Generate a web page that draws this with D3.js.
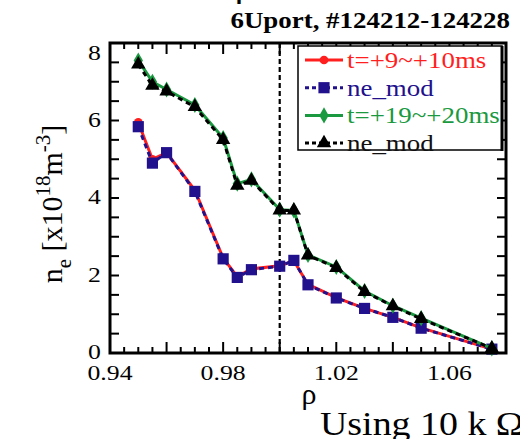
<!DOCTYPE html>
<html>
<head>
<meta charset="utf-8">
<script src="https://cdn.jsdelivr.net/npm/d3@7"></script>
<style>
  body { margin: 0; background: #fff; }
  svg { display: block; }
  text { font-family: "Liberation Serif", "Times New Roman", serif; }
</style>
</head>
<body>
<div id="chart"></div>
<script>
// rho positions of the probe pins
const rho = [0.95, 0.955, 0.96, 0.97, 0.98, 0.985, 0.99, 1.00, 1.005, 1.01, 1.02, 1.03, 1.04, 1.05, 1.075]

// density, x10^18 m^-3
const neEarly = [5.95, 5.0, 5.17, 4.2, 2.45, 1.97, 2.17, 2.25, 2.38, 1.77, 1.43, 1.15, 0.92, 0.65, 0.1]   // t=+9~+10ms
const neEarlyMod = [5.84, 4.9, 5.17, 4.17, 2.43, 1.95, 2.15, 2.24, 2.39, 1.76, 1.42, 1.15, 0.92, 0.64, 0.1]
const neLate = [7.55, 7.0, 6.8, 6.4, 5.55, 4.37, 4.48, 3.7, 3.68, 2.53, 2.22, 1.6, 1.22, 0.9, 0.12]   // t=+19~+20ms
const neLateMod = [7.45, 6.9, 6.75, 6.35, 5.5, 4.32, 4.45, 3.68, 3.68, 2.52, 2.2, 1.58, 1.21, 0.88, 0.12]

const xTickLabels = [0.94, 0.98, 1.02, 1.06]
const yTickLabels = [0, 2, 4, 6, 8]
const legendLabels = ["t=+9~+10ms", "ne_mod", "t=+19~+20ms", "ne_mod"]

const width = 520, height = 439
const stretchK = 1.17  // the source picture is a bit wide

const svg = d3.select("#chart").append("svg")
  .attr("width", width)
  .attr("height", height)

const x = d3.scaleLinear().domain([0.94, 1.08]).range([110, 506])
const y = d3.scaleLinear().domain([0, 8]).range([353, 43])

// widen text the way the picture is widened
const stretch = sel => sel.each(function() {
  const w = this.getComputedTextLength()
  d3.select(this).attr("textLength", w * stretchK).attr("lengthAdjust", "spacingAndGlyphs")
})

// ticks, inward on all four sides
const xMinor = d3.range(0.94, 1.0801, 0.005).map(v => +v.toFixed(3))
const yMinor = d3.range(0, 8.01, 0.5)
const ticks = svg.append("g").attr("stroke", "#000").attr("stroke-width", 2)
xMinor.forEach(v => {
  const major = Math.abs(Math.round(v * 50) - v * 50) < 1e-6
  const len = major ? 11 : 6
  ticks.append("line").attr("x1", x(v)).attr("x2", x(v)).attr("y1", y(0)).attr("y2", y(0) - len)
  ticks.append("line").attr("x1", x(v)).attr("x2", x(v)).attr("y1", y(8)).attr("y2", y(8) + len)
})
yMinor.forEach(v => {
  ticks.append("line").attr("x1", x(0.94)).attr("x2", x(0.94) + 9).attr("y1", y(v)).attr("y2", y(v))
  ticks.append("line").attr("x1", x(1.08)).attr("x2", x(1.08) - 9).attr("y1", y(v)).attr("y2", y(v))
})

// vertical marker at rho = 1
svg.append("line")
  .attr("x1", x(1.0)).attr("x2", x(1.0))
  .attr("y1", y(8)).attr("y2", y(0))
  .attr("stroke", "#000").attr("stroke-width", 2.2)
  .attr("stroke-dasharray", "5,3")

// tick labels
svg.append("g").selectAll("text")
  .data(xTickLabels)
  .join("text")
  .attr("x", d => x(d))
  .attr("y", 380)
  .attr("text-anchor", "middle")
  .style("font-size", "22px")
  .text(d => d.toFixed(2))
  .call(stretch)

// top label sits lower than its tick in the original
svg.append("g").selectAll("text")
  .data(yTickLabels)
  .join("text")
  .attr("x", 101)
  .attr("y", d => d === 8 ? 60 : y(d) + 6)
  .attr("text-anchor", "end")
  .style("font-size", "22px")
  .text(d => d)
  .call(stretch)

// series
const series = [
  { vals: neEarly, color: "#ff1f1f", dash: null, shape: "circle" },
  { vals: neEarlyMod, color: "#22118c", dash: "5,4", shape: "square" },
  { vals: neLate, color: "#1a9940", dash: null, shape: "diamond" },
  { vals: neLateMod, color: "#000", dash: "5,4", shape: "triangle" },
]
const symbolOf = {
  circle: d3.symbol(d3.symbolCircle, 60),
  square: d3.symbol(d3.symbolSquare, 125),
  diamond: d3.symbol(d3.symbolDiamond, 75),
  triangle: d3.symbol(d3.symbolTriangle, 90),
}

const line = d3.line().x((d, i) => x(rho[i])).y(d => y(d))

series.forEach(s => {
  const g = svg.append("g")
  g.append("path")
    .attr("d", line(s.vals))
    .attr("fill", "none")
    .attr("stroke", s.color)
    .attr("stroke-width", 3)
    .attr("stroke-dasharray", s.dash)
  g.selectAll("path.pt")
    .data(s.vals)
    .join("path")
    .attr("class", "pt")
    .attr("transform", (d, i) => `translate(${x(rho[i])},${y(d)})`)
    .attr("d", symbolOf[s.shape])
    .attr("fill", s.color)
})

// frame
svg.append("rect")
  .attr("x", x(0.94)).attr("y", y(8))
  .attr("width", x(1.08) - x(0.94)).attr("height", y(0) - y(8))
  .attr("fill", "none").attr("stroke", "#000").attr("stroke-width", 3)

// legend
const lg = svg.append("g")
lg.append("rect")
  .attr("x", 298).attr("y", 46).attr("width", 204).attr("height", 104)
  .attr("fill", "#fff").attr("stroke", "#000").attr("stroke-width", 1.5)
lg.append("line").attr("x1", 502).attr("x2", 502).attr("y1", 46).attr("y2", 151)
  .attr("stroke", "#000").attr("stroke-width", 3)
series.forEach((s, i) => {
  const cy = 60 + i * 27.7
  lg.append("line")
    .attr("x1", 305).attr("x2", 343).attr("y1", cy).attr("y2", cy)
    .attr("stroke", s.color).attr("stroke-width", 3)
    .attr("stroke-dasharray", s.dash ? "4,3" : null)
  lg.append("path")
    .attr("transform", `translate(324,${cy})`)
    .attr("d", symbolOf[s.shape])
    .attr("fill", s.color)
  lg.append("text")
    .attr("x", 347).attr("y", cy + 8)
    .style("font-size", "23px")
    .attr("fill", s.color === "#000" ? "#111" : s.color)
    .text(legendLabels[i])
    .call(stretch)
})

// y axis title
const yt = svg.append("text")
  .attr("transform", "translate(62,204) rotate(-90)")
  .attr("text-anchor", "middle")
  .style("font-size", "30px")
yt.append("tspan").text("n")
yt.append("tspan").attr("dy", 9).style("font-size", "21px").text("e")
yt.append("tspan").attr("dy", -9).text(" [x10")
yt.append("tspan").attr("dy", -12).style("font-size", "21px").text("18")
yt.append("tspan").attr("dy", 12).text("m")
yt.append("tspan").attr("dy", -12).style("font-size", "21px").text("-3")
yt.append("tspan").attr("dy", 12).text("]")

// x axis title
svg.append("text")
  .attr("x", 309).attr("y", 404)
  .attr("text-anchor", "middle")
  .style("font-size", "30px")
  .text("ρ")

// title and cut-off captions
svg.append("text")
  .attr("x", 510).attr("y", 28)
  .attr("text-anchor", "end")
  .style("font-size", "23px")
  .style("font-weight", "bold")
  .text("6Uport, #124212-124228")
  .call(stretch)

svg.append("text")
  .attr("x", 236).attr("y", -1)
  .style("font-size", "23px")
  .style("font-weight", "bold")
  .text("ρ")

svg.append("text")
  .attr("x", 320).attr("y", 435)
  .style("font-size", "33px")
  .attr("textLength", 204)
  .attr("lengthAdjust", "spacingAndGlyphs")
  .text("Using 10 k Ω")
</script>
</body>
</html>
